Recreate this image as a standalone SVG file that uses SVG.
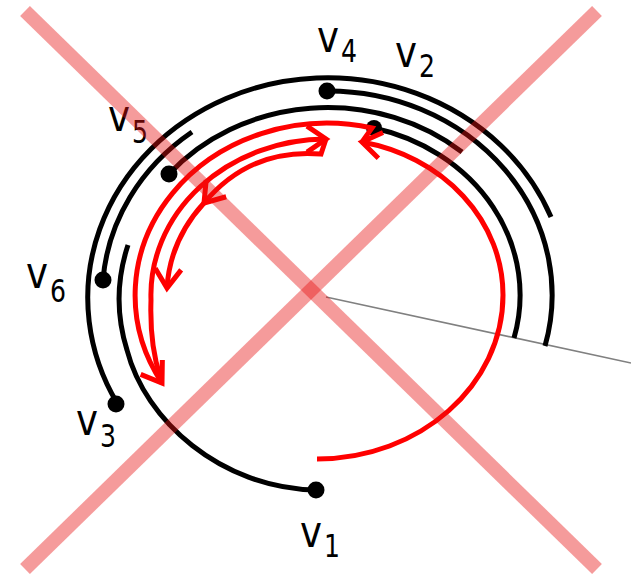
<svg xmlns="http://www.w3.org/2000/svg" width="631" height="577" viewBox="0 0 631 577">
<style>
.blk{fill:none;stroke:#000;stroke-width:5;stroke-linecap:butt}
.red{fill:none;stroke:#ff0000;stroke-width:5;stroke-linejoin:miter;marker-end:url(#ah)}
.dot{fill:#000}
.lbl{font-family:"DejaVu Sans","Liberation Sans",sans-serif;font-size:44px;fill:#000}
.sub{font-family:"DejaVu Sans","Liberation Sans",sans-serif;font-size:32px;fill:#000}
.cross{stroke:#e81010;stroke-opacity:0.42;stroke-width:14;stroke-linecap:butt}
</style>
<defs>
<marker id="ah" markerUnits="userSpaceOnUse" markerWidth="34" markerHeight="34" viewBox="-26 -17 34 34" refX="0" refY="0" orient="auto" overflow="visible">
<path d="M -19 -13 L 0 0 L -19 13" fill="none" stroke="#ff0000" stroke-width="5" stroke-linejoin="miter"/>
</marker>
</defs>
<rect width="631" height="577" fill="#fff"/>
<line id="cut" x1="326" y1="297" x2="631" y2="363" stroke="#808080" stroke-width="1.6"/>
<g id="nodes">
<g id="v1"><circle class="dot" cx="316" cy="490" r="8.5"/><text class="lbl" x="300" y="547" textLength="22" lengthAdjust="spacingAndGlyphs">v</text><text class="sub" x="324" y="557" textLength="16" lengthAdjust="spacingAndGlyphs">1</text></g>
<g id="v2"><circle class="dot" cx="374" cy="128" r="8"/><text class="lbl" x="395" y="67" textLength="22" lengthAdjust="spacingAndGlyphs">v</text><text class="sub" x="419" y="77" textLength="16" lengthAdjust="spacingAndGlyphs">2</text></g>
<g id="v3"><circle class="dot" cx="116" cy="404" r="8.5"/><text class="lbl" x="76" y="435" textLength="22" lengthAdjust="spacingAndGlyphs">v</text><text class="sub" x="100" y="447" textLength="16" lengthAdjust="spacingAndGlyphs">3</text></g>
<g id="v4"><circle class="dot" cx="327" cy="91" r="8.5"/><text class="lbl" x="317" y="52" textLength="22" lengthAdjust="spacingAndGlyphs">v</text><text class="sub" x="341" y="62" textLength="16" lengthAdjust="spacingAndGlyphs">4</text></g>
<g id="v5"><circle class="dot" cx="169" cy="174" r="8.5"/><text class="lbl" x="108" y="131" textLength="22" lengthAdjust="spacingAndGlyphs">v</text><text class="sub" x="132" y="143" textLength="16" lengthAdjust="spacingAndGlyphs">5</text></g>
<g id="v6"><circle class="dot" cx="103" cy="280" r="8.5"/><text class="lbl" x="26" y="288" textLength="22" lengthAdjust="spacingAndGlyphs">v</text><text class="sub" x="50" y="302" textLength="16" lengthAdjust="spacingAndGlyphs">6</text></g>
</g>
<g id="connectors">
<path class="blk" d="M 117 403 A 240 220 0 1 1 551 217"/>
<path class="blk" d="M 103 280 A 224 204 0 0 1 192 132"/>
<path class="blk" d="M 327 91 A 224 204 0 0 1 545 346"/>
<path class="blk" d="M 169 174 A 208 188 0 0 1 462 152"/>
<path class="blk" d="M 374 128 A 192 172 0 0 1 514 338"/>
<path class="blk" d="M 128 245 A 208 188 0 0 0 127 350 C 145 420 220 488 316 490"/>
<path class="red" d="M 317 459 C 420 459 503 385 503 295 A 176 156 0 0 0 362 142"/>
<path class="red" d="M 362 142 L 372 128 A 192 172 0 0 0 162 383"/>
<path class="red" d="M 160 376 C 153 355 150 330 151 300 A 176 156 0 0 1 326 139"/>
<path class="red" d="M 326 139 L 321 154 Q 250 148 204 203"/>
<path class="red" d="M 204 203 Q 170 240 167 288"/>
</g>
<g id="cross">
<line class="cross" x1="25" y1="11" x2="597" y2="569"/>
<line class="cross" x1="597" y1="11" x2="25" y2="569"/>
</g>
</svg>
